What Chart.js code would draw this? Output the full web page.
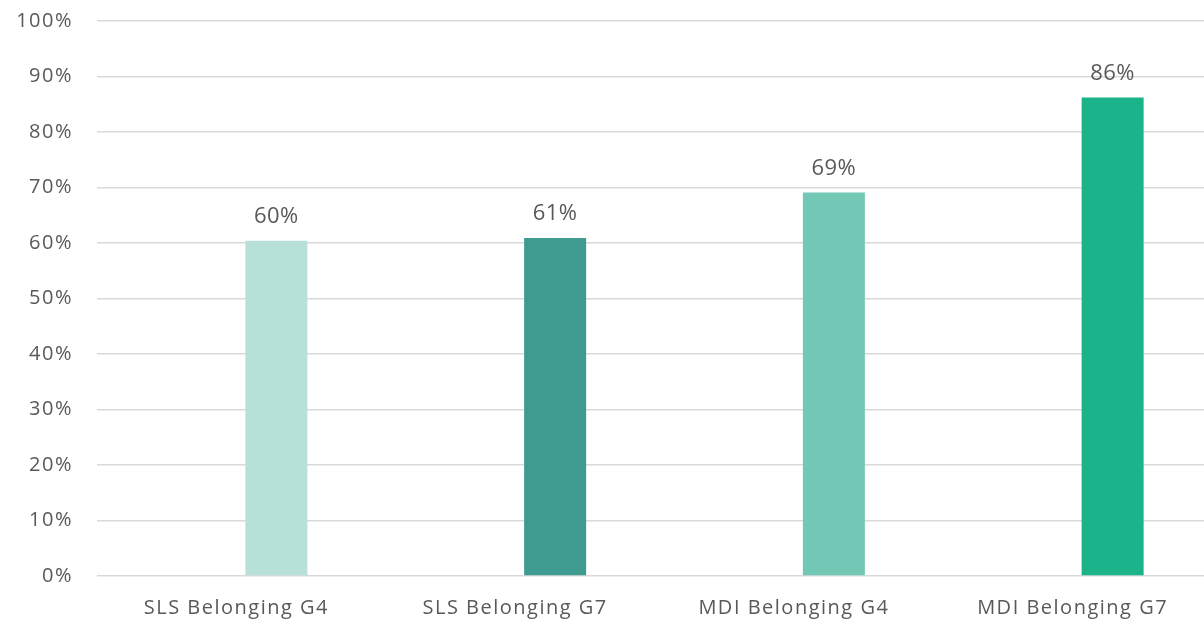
<!DOCTYPE html>
<html>
<head>
<meta charset="utf-8">
<script src="https://cdn.jsdelivr.net/npm/chart.js@4/dist/chart.umd.min.js"></script>
<style>
  html, body { margin: 0; padding: 0; background: #fff; overflow: hidden; }
  #wrap { width: 1212px; height: 621px; }
</style>
</head>
<body>
<div id="wrap"><canvas id="barChart" width="1212" height="621"></canvas></div>
<script>
const categories = ['SLS Belonging G4', 'SLS Belonging G7', 'MDI Belonging G4', 'MDI Belonging G7'];
const values = [60.4, 60.9, 69.1, 86.2];
const spacerValues = [null, null, null, null]; // empty series, as in the source chart
const barColors = ['#b7e0d8', '#3d9b8f', '#72c8b4', '#1bb38a'];
const yTicks = [0, 10, 20, 30, 40, 50, 60, 70, 80, 90, 100];

const FONT = "'Open Sans', 'Noto Sans', sans-serif";

// slightly wider letter spacing like the original
const spacing = {
    id: 'spacing',
    beforeDraw(chart) { chart.ctx.letterSpacing = '1.5px'; }
};

// value labels above each bar
const valueLabels = {
    id: 'valueLabels',
    afterDatasetsDraw(chart) {
        const ctx = chart.ctx;
        const meta = chart.getDatasetMeta(1);
        ctx.save();
        ctx.letterSpacing = '0.5px';
        ctx.font = '22px ' + FONT;
        ctx.fillStyle = '#595959';
        ctx.textAlign = 'center';
        ctx.textBaseline = 'middle';
        meta.data.forEach((bar, i) => {
            ctx.fillText(Math.round(values[i]) + '%', bar.x, bar.y - 24);
        });
        ctx.restore();
    }
};

new Chart(document.getElementById('barChart').getContext('2d'), {
    type: 'bar',
    data: {
        labels: categories,
        datasets: [{
            data: spacerValues,
            backgroundColor: 'rgba(0,0,0,0)'
        }, {
            data: values,
            backgroundColor: barColors
        }]
    },
    options: {
        responsive: false,
        animation: false,
        datasets: {
            bar: { categoryPercentage: 0.574, barPercentage: 0.775 }
        },
        layout: { padding: { top: 21, right: 0, left: 0, bottom: 0 } },
        plugins: {
            legend: { display: false },
            tooltip: { enabled: false }
        },
        scales: {
            x: {
                grid: { display: false },
                border: { display: false },
                ticks: {
                    padding: 12,
                    color: '#595959',
                    maxRotation: 0,
                    font: { family: FONT, size: 20 }
                },
                afterFit(scale) { scale.height = 45; scale.paddingLeft = 0; scale.paddingRight = 0; }
            },
            y: {
                min: 0,
                max: 100,
                afterBuildTicks(scale) { scale.ticks = yTicks.map(v => ({ value: v })); },
                grid: { color: '#d9d9d9', lineWidth: 1.5, drawTicks: false },
                border: { display: false },
                ticks: {
                    padding: 24,
                    color: '#595959',
                    font: { family: FONT, size: 20 },
                    callback: v => v + '%'
                },
                afterFit(scale) { scale.width = 97; scale.paddingTop = 0; scale.paddingBottom = 0; }
            }
        }
    },
    plugins: [spacing, valueLabels]
});
</script>
</body>
</html>
